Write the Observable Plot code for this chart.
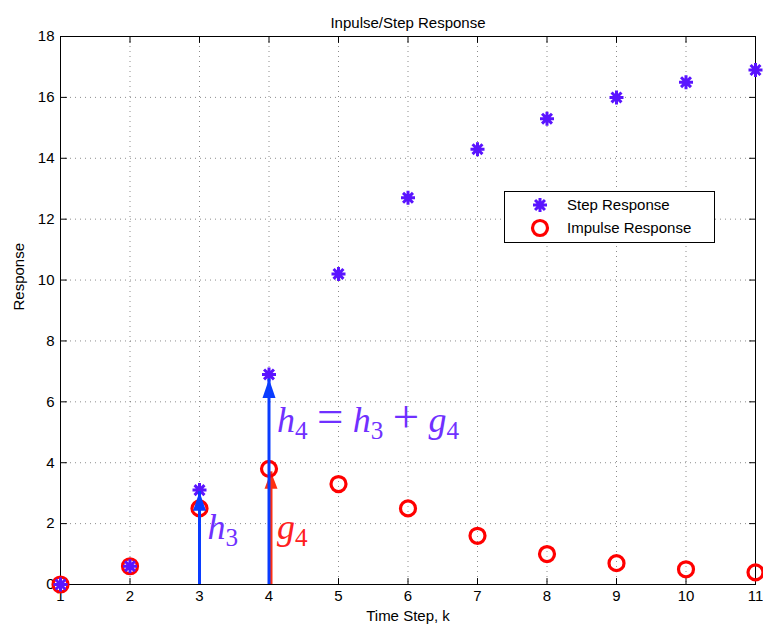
<!DOCTYPE html>
<html><head><meta charset="utf-8">
<script src="https://cdn.jsdelivr.net/npm/d3@7"></script>
<script src="https://cdn.jsdelivr.net/npm/@observablehq/plot@0.6"></script>
<style>body{margin:0;background:#fff}#chart{width:763px;height:626px}</style>
</head><body><div id="chart"></div>
<script>
const timeSteps = [1, 2, 3, 4, 5, 6, 7, 8, 9, 10, 11];
const stepResponse = [0, 0.6, 3.1, 6.9, 10.2, 12.7, 14.3, 15.3, 16.0, 16.5, 16.9];
const impulseResponse = [0, 0.6, 2.5, 3.8, 3.3, 2.5, 1.6, 1.0, 0.7, 0.5, 0.4];
const xTicks = [1, 2, 3, 4, 5, 6, 7, 8, 9, 10, 11];
const yTicks = [0, 2, 4, 6, 8, 10, 12, 14, 16, 18];
const blueArrowX = [3, 4];
const blueArrowTop = [3.05, 6.75];
const redArrowX = [4];
const redArrowTop = [3.7];
const annX = [3, 4, 4];
const annY = [1.5, 1.5, 5.0];
const annText = ["h_3", "g_4", "h_4 = h_3 + g_4"];
const annColor = ["#7030ff", "#ff2020", "#7030ff"];
const seriesNames = ["Step Response", "Impulse Response"];

const PURPLE = "#5a14ff", RED = "#ff0000", BLUE = "#0a3cff", REDHEAD = "#ff3010";
const SANS = "'Liberation Sans', Arial, sans-serif";
const MATH_FS = 36;

const star8 = {draw(ctx, size) {
  const r = Math.sqrt(size / Math.PI);
  for (let k = 0; k < 4; k++) {
    const a = k * Math.PI / 4, c = r * Math.cos(a), s = r * Math.sin(a);
    ctx.moveTo(c, s); ctx.lineTo(-c, -s);
  }
}};
const tickShape = {draw(ctx, l) { ctx.moveTo(0, 0); ctx.lineTo(0, -l); }};
const headShape = {draw(ctx, l) { ctx.moveTo(0, 0); ctx.lineTo(-6.5, l); ctx.lineTo(6.5, l); ctx.closePath(); }};

const ticks = (data, o) => Plot.vector(data, {length: 6, anchor: "start", shape: tickShape, stroke: "black", strokeWidth: 1, ...o});

const plot = Plot.plot({
  width: 763, height: 626,
  marginLeft: 60, marginRight: 8, marginTop: 36, marginBottom: 42,
  x: {domain: [1, 11]},
  y: {domain: [0, 18]},
  color: {type: "identity"},
  style: {fontFamily: SANS, background: "#fff", overflow: "visible"},
  marks: [
    Plot.gridX(xTicks.slice(1, -1), {stroke: "#000", strokeOpacity: 0.45, strokeDasharray: "1,4"}),
    Plot.gridY(yTicks.slice(1, -1), {stroke: "#000", strokeOpacity: 0.45, strokeDasharray: "1,4"}),
    Plot.frame({stroke: "black", strokeWidth: 1}),
    ticks(xTicks, {x: d => d, y: 0, rotate: 0}),
    ticks(xTicks, {x: d => d, y: 18, rotate: 180}),
    ticks(yTicks, {y: d => d, x: 1, rotate: 90}),
    ticks(yTicks, {y: d => d, x: 11, rotate: -90}),
    Plot.axisX(xTicks, {tickSize: 0, tickPadding: 6, fontSize: 15, label: null}),
    Plot.axisY(yTicks, {tickSize: 0, tickPadding: 6, fontSize: 15, label: null}),
    // red arrow (impulse contribution)
    Plot.ruleX(redArrowX, {x: d => d, y1: 0, y2: (d, i) => redArrowTop[i], stroke: REDHEAD, strokeWidth: 3, dx: 2}),
    Plot.vector(redArrowX, {x: d => d, y: (d, i) => redArrowTop[i], length: 17, anchor: "start", shape: headShape, fill: REDHEAD, stroke: "none", dx: 2}),
    // impulse response circles
    Plot.dot(timeSteps, {x: d => d, y: (d, i) => impulseResponse[i], r: 7.5, stroke: RED, strokeWidth: 3.2, fill: "none"}),
    // step response stars
    Plot.dot(timeSteps, {x: d => d, y: (d, i) => stepResponse[i], r: 7, symbol: star8, stroke: PURPLE, strokeWidth: 3, fill: "none"}),
    // blue arrows
    Plot.ruleX(blueArrowX, {x: d => d, y1: 0, y2: (d, i) => blueArrowTop[i], stroke: BLUE, strokeWidth: 3}),
    Plot.vector(blueArrowX, {x: d => d, y: (d, i) => blueArrowTop[i], length: 19, anchor: "start", shape: headShape, fill: BLUE, stroke: "none"}),
    // math annotations
    Plot.text(annText.map((d, i) => i), {x: i => annX[i], y: i => annY[i], text: i => annText[i], fill: i => annColor[i],
      textAnchor: "start", lineAnchor: "bottom", dx: 8, fontSize: MATH_FS, fontFamily: "'Liberation Serif', serif"}),
    // title and axis labels
    Plot.text(["Inpulse/Step Response"], {text: d => d, frameAnchor: "top", dy: -19, fontSize: 15}),
    Plot.text(["Time Step, k"], {text: d => d, frameAnchor: "bottom", dy: 36, fontSize: 15}),
    Plot.text(["Response"], {text: d => d, frameAnchor: "left", dx: -41, rotate: -90, fontSize: 15})
  ]
});

// LaTeX-like rendering of annotation text (italic letters, subscripts)
const NS = "http://www.w3.org/2000/svg";
d3.select(plot).selectAll("text").filter(function () { return this.textContent.includes("_"); }).each(function () {
  const s = this.textContent;
  while (this.firstChild) this.removeChild(this.firstChild);
  const fs = MATH_FS; let pendingDx = 0, lowered = 0;
  for (let i = 0; i < s.length; i++) {
    let c = s[i];
    if (c === " ") { pendingDx += fs * 0.26; continue; }
    const t = document.createElementNS(NS, "tspan");
    if (c === "_") {
      c = s[++i];
      t.setAttribute("font-size", fs * 0.7);
      t.setAttribute("font-style", "normal");
      t.setAttribute("dy", fs * 0.2);
      lowered = fs * 0.2;
    } else {
      if (lowered) { t.setAttribute("dy", -lowered); lowered = 0; }
      const letter = /[a-z]/i.test(c);
      t.setAttribute("font-style", letter ? "italic" : "normal");
      if (!letter) t.setAttribute("font-size", fs * 1.3);
    }
    if (pendingDx) { t.setAttribute("dx", pendingDx); pendingDx = 0; }
    t.textContent = c;
    this.appendChild(t);
  }
});

// legend box
const lg = d3.select(plot).append("g").attr("font-size", 15).attr("font-family", SANS).attr("text-anchor", "start");
lg.append("rect").attr("x", 504.5).attr("y", 191.5).attr("width", 210).attr("height", 51).attr("fill", "#fff").attr("stroke", "#000");
lg.append("path").attr("d", d3.symbol(star8, 49 * Math.PI)()).attr("transform", "translate(540,205)")
  .attr("stroke", PURPLE).attr("stroke-width", 3).attr("fill", "none");
lg.append("circle").attr("cx", 540).attr("cy", 228).attr("r", 7.5).attr("stroke", RED).attr("stroke-width", 3.2).attr("fill", "none");
lg.selectAll("text.lab").data(seriesNames).join("text").attr("x", 567).attr("y", (d, i) => 210 + i * 23).attr("text-anchor", "start").text(d => d);

document.getElementById("chart").append(plot);
</script></body></html>
